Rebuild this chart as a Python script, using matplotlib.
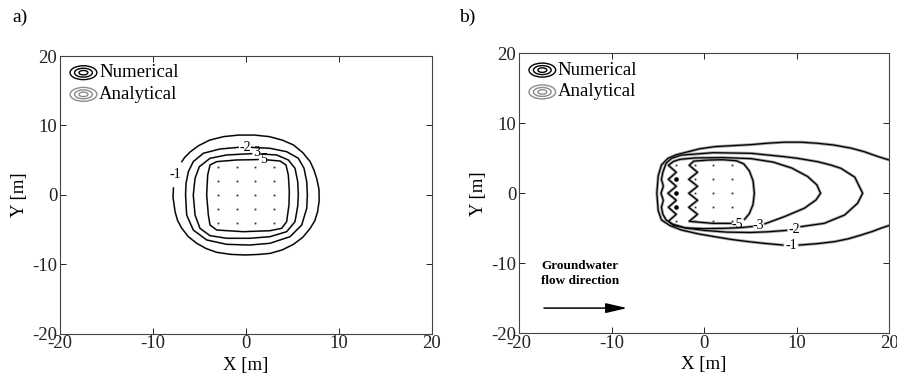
import matplotlib
matplotlib.use('Agg')
import matplotlib.pyplot as plt
from matplotlib.patches import Ellipse

plt.rcParams['font.family'] = ['Liberation Serif', 'DejaVu Serif']
plt.rcParams['axes.unicode_minus'] = False

# --- borehole field (same in both panels) ---
BH_X = [-3, -1, 1, 3]
BH_Y = [4, 2, 0, -2, -4]

# --- panel a: no groundwater flow, contour lines ---
A_L1_X = [-7.8, -7.85, -7.63, -7.35, -6.9, -6.2, -5.3, -4.3, -3.15, -1.6, -0.1, 1.4, 2.6, 3.9, 5.1, 6.1,
          6.9, 7.4, 7.7, 7.87, 7.85, 7.6, 7.3, 6.9, 6.1, 5.1, 3.9, 2.5, 0.9, -0.8, -2.4, -3.9, -5.1, -6.0,
          -6.6, -6.9]
A_L1_Y = [1.0, -0.3, -2.4, -3.7, -4.8, -6.0, -6.95, -7.7, -8.25, -8.55, -8.63, -8.55, -8.4, -7.9, -7.1,
          -6.1, -4.8, -3.7, -2.4, -0.8, 0.8, 2.4, 3.6, 4.8, 6.1, 7.2, 7.9, 8.4, 8.62, 8.62, 8.4, 7.9, 7.1,
          6.2, 5.4, 4.8]

A_L2_X = [0.6, 2.58, 4.37, 5.63, 6.24, 6.53, 6.6, 6.53, 5.99, 4.73, 2.58, 0.4, -2.08, -4.23, -5.67,
          -6.38, -6.5, -6.45, -6.2, -5.67, -4.59, -2.8, -0.85]
A_L2_Y = [6.85, 6.72, 6.23, 5.28, 3.84, 1.92, 0.0, -1.92, -4.32, -6.0, -6.95, -7.2, -7.1, -6.47, -5.04,
          -2.88, 0.0, 1.68, 3.35, 4.8, 6.0, 6.62, 6.85]

A_L3_X = [1.6, 3.3, 4.55, 5.27, 5.56, 5.63, 5.56, 5.27, 4.37, 2.58, 0.4, -2.08, -3.87, -4.95, -5.48,
          -5.67, -5.48, -5.02, -3.87, -2.08, 0.6]
A_L3_Y = [5.9, 5.76, 5.04, 3.84, 1.92, 0.0, -1.6, -3.84, -5.28, -6.0, -6.23, -6.23, -5.85, -4.8, -2.88,
          0.0, 2.4, 4.07, 5.28, 5.76, 5.95]

A_L5_X = [2.3, 3.66, 4.3, 4.55, 4.66, 4.62, 4.37, 3.83, 2.58, -0.29, -3.15, -3.87, -4.05, -4.23, -4.12,
          -3.87, -3.15, -1.0, 1.3]
A_L5_Y = [5.05, 4.89, 4.32, 2.88, 0.48, -1.44, -3.84, -4.8, -5.14, -5.28, -5.04, -4.32, -2.88, 0.0, 2.88,
          4.32, 4.8, 5.04, 5.1]

A_LABELS = ['-1', '-2', '3', '5']
A_LABEL_X = [-7.6, -0.1, 1.15, 1.86]
A_LABEL_Y = [2.9, 6.85, 6.1, 5.13]

# --- panel b: with groundwater flow ---
B_L1_X = [20.0, 18.8, 17.3, 15.9, 14.0, 12.3, 10.5, 8.7, 6.8, 5.08, 3.0, 1.15, -0.5, -1.7, -3.0, -3.9,
          -4.6, -4.95, -5.1, -4.95, -4.6, -3.7, -2.45, -0.6, 1.15, 3.0, 4.76, 6.5, 8.5]
B_L1_Y = [4.76, 5.25, 5.95, 6.45, 6.9, 7.14, 7.3, 7.3, 7.15, 6.95, 6.8, 6.66, 6.35, 5.94, 5.5, 5.0,
          4.04, 2.5, 0.0, -2.5, -3.8, -4.6, -5.24, -5.8, -6.2, -6.6, -6.9, -7.15, -7.39]
B_L1B_X = [10.3, 12.2, 14.1, 15.6, 17.0, 18.2, 19.1, 20.0]
B_L1B_Y = [-7.39, -7.2, -6.91, -6.5, -5.96, -5.45, -5.0, -4.6]

B_L2_X = [10.5, 13.0, 15.2, 16.6, 17.15, 16.3, 14.8, 13.7, 12.3, 10.1, 8.68, 5.08, 1.0, -2.49, -3.5,
          -4.1, -4.45, -4.6, -4.4, -4.65, -4.4, -4.6, -4.45, -4.1, -3.4, -2.0, 0.0, 2.5, 5.0, 6.9, 8.9]
B_L2_Y = [-4.76, -4.29, -3.1, -1.43, 0.0, 2.3, 3.57, 4.04, 4.51, 5.0, 5.23, 5.71, 5.8, 5.45, 5.0,
          4.3, 3.0, 2.0, 1.0, 0.0, -1.0, -2.0, -3.0, -3.8, -4.4, -4.95, -5.3, -5.55, -5.6, -5.5, -5.3]

B_L3_X = [6.6, 8.68, 10.84, 12.1, 12.6, 12.2, 11.2, 9.5, 7.5, 5.08, 2.0, -1.0, -2.6, -3.3, -3.85, -3.0,
          -3.85, -3.0, -3.9, -3.0, -3.85, -3.0, -3.85, -3.3, -2.0, 0.0, 2.38, 4.0, 5.2]
B_L3_Y = [-4.35, -3.34, -2.14, -0.96, 0.0, 1.2, 2.4, 3.6, 4.45, 4.95, 5.1, 5.05, 4.85, 4.55, 4.0, 3.0,
          2.0, 1.0, 0.0, -1.0, -2.0, -3.0, -4.0, -4.6, -4.95, -5.05, -5.0, -4.9, -4.75]

B_L5_X = [2.9, 1.0, -0.8, -1.6, -0.7, -1.65, -0.7, -1.65, -0.7, -1.65, -0.7, -1.6, -1.1, 0.5, 2.0, 3.5,
          4.3, 4.9, 5.3, 5.44, 5.3, 4.9, 4.4]
B_L5_Y = [-4.3, -4.3, -4.1, -4.0, -3.0, -2.0, -1.0, 0.0, 1.0, 2.0, 3.0, 4.0, 4.6, 4.75, 4.8, 4.65,
          4.2, 3.2, 1.8, 0.0, -1.6, -2.9, -3.7]

# small closed -5 loops round the upstream boreholes
B_LOOP_X = [-3, -3, -3]
B_LOOP_Y = [2, 0, -2]

B_LABELS = ['-5', '-3', '-2', '-1']
B_LABEL_X = [3.6, 5.9, 9.8, 9.4]
B_LABEL_Y = [-4.45, -4.55, -5.2, -7.45]

TICKS = [-20, -10, 0, 10, 20]
FS = 13.5


def setup_axes(ax):
    ax.set_xlim(-20, 20)
    ax.set_ylim(-20, 20)
    ax.set_xticks(TICKS)
    ax.set_yticks(TICKS)
    ax.tick_params(direction='in', top=True, right=True, length=4, width=0.7,
                   labelsize=FS, pad=2, colors='#222222')
    ax.tick_params(axis='x', pad=1)
    for s in ax.spines.values():
        s.set_color('#444444')
        s.set_linewidth(0.8)
    ax.set_xlabel('X [m]', fontsize=FS, labelpad=3)
    ax.set_ylabel('Y [m]', fontsize=FS, labelpad=3)


def draw_line(ax, x, y, halo, lw):
    # analytical (grey) under numerical (black)
    ax.plot(x, y, color='#a0a0a0', lw=halo, solid_joinstyle='round', zorder=2)
    ax.plot(x, y, color='black', lw=lw, solid_joinstyle='round', zorder=3)


def draw_legend(ax):
    rows = [(0.94, 'black', 'Numerical'), (0.862, '#8c8c8c', 'Analytical')]
    for yc, col, txt in rows:
        for w, h in [(0.072, 0.05), (0.048, 0.032), (0.024, 0.016)]:
            ax.add_patch(Ellipse((0.063, yc), w, h, transform=ax.transAxes,
                                 fill=False, ec=col, lw=1.0, zorder=4))
        ax.text(0.105, yc, txt, transform=ax.transAxes, fontsize=FS,
                ha='left', va='center')


def draw_boreholes(ax):
    xs = [bx for bx in BH_X for by in BH_Y]
    ys = [by for bx in BH_X for by in BH_Y]
    ax.plot(xs, ys, 's', color='#333333', ms=1.3, mew=0, zorder=5)


fig = plt.figure(figsize=(8.97, 3.82), dpi=100)
ax_a = fig.add_axes([0.0669, 0.1257, 0.4147, 0.7277])
ax_b = fig.add_axes([0.5786, 0.1275, 0.4125, 0.733])

# panel a
setup_axes(ax_a)
for lx, ly in [(A_L1_X, A_L1_Y), (A_L2_X, A_L2_Y), (A_L3_X, A_L3_Y), (A_L5_X, A_L5_Y)]:
    draw_line(ax_a, lx, ly, 1.3, 0.9)
draw_boreholes(ax_a)
for t, tx, ty in zip(A_LABELS, A_LABEL_X, A_LABEL_Y):
    ax_a.text(tx, ty, t, fontsize=10, ha='center', va='center', zorder=6)
draw_legend(ax_a)

# panel b
setup_axes(ax_b)
for lx, ly in [(B_L1_X, B_L1_Y), (B_L1B_X, B_L1B_Y), (B_L2_X, B_L2_Y),
               (B_L3_X, B_L3_Y), (B_L5_X, B_L5_Y)]:
    draw_line(ax_b, lx, ly, 2.1, 0.9)
draw_boreholes(ax_b)
ax_b.plot(B_LOOP_X, B_LOOP_Y, 'o', color='black', ms=2.3, zorder=5)
for t, tx, ty in zip(B_LABELS, B_LABEL_X, B_LABEL_Y):
    ax_b.text(tx, ty, t, fontsize=10, ha='center', va='center', zorder=6)
draw_legend(ax_b)

ax_b.text(-17.6, -9.5, 'Groundwater\nflow direction', fontsize=9.5, fontweight='bold',
          ha='left', va='top', linespacing=1.35)
ax_b.annotate('', xy=(-8.0, -16.4), xytext=(-17.6, -16.4),
              arrowprops=dict(arrowstyle='-|>,head_length=1.3,head_width=0.3',
                              color='black', lw=1.1))

fig.text(0.0134, 0.955, 'a)', fontsize=14, ha='left', va='center')
fig.text(0.512, 0.955, 'b)', fontsize=14, ha='left', va='center')

fig.savefig('out.png', dpi=100)
